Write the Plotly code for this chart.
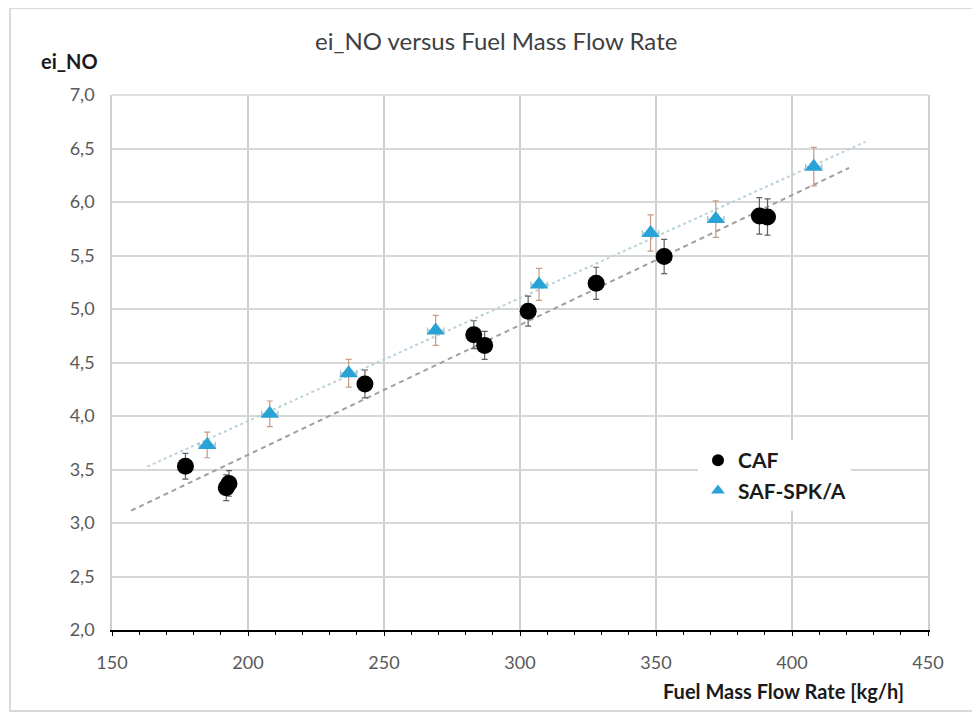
import numpy as np
import plotly.graph_objects as go

# ---- data ----
caf_x = [177, 192, 193, 243, 283, 287, 303, 328, 353, 388, 391]
caf_y = [3.53, 3.33, 3.37, 4.30, 4.76, 4.66, 4.98, 5.24, 5.49, 5.87, 5.86]
caf_err_y = [0.12, 0.12, 0.12, 0.13, 0.13, 0.13, 0.14, 0.15, 0.16, 0.17, 0.17]

saf_x = [185, 208, 237, 269, 307, 348, 372, 408]
saf_y = [3.73, 4.02, 4.40, 4.80, 5.23, 5.71, 5.84, 6.33]
saf_err_y = [0.12, 0.12, 0.13, 0.14, 0.15, 0.17, 0.17, 0.18]
saf_err_x = [3, 3, 3, 3, 3, 3, 3, 3]

# trendline forecast (backward, forward) in kg/h
caf_forecast = (20, 30)
saf_forecast = (22, 19)

x_ticks = [150, 200, 250, 300, 350, 400, 450]
y_ticks = [2.0, 2.5, 3.0, 3.5, 4.0, 4.5, 5.0, 5.5, 6.0, 6.5, 7.0]

title = "ei_NO versus Fuel Mass Flow Rate"
y_title = "ei_NO"
x_title = "Fuel Mass Flow Rate [kg/h]"

FONT = "Lato"
BLUE = "#29a3d6"


def trend(xs, ys, fc):
    k, b = np.polyfit(xs, ys, 1)
    tx = np.array([min(xs) - fc[0], max(xs) + fc[1]], dtype=float)
    return tx, k * tx + b


fig = go.Figure()

tx, ty = trend(caf_x, caf_y, caf_forecast)
fig.add_trace(go.Scatter(x=tx, y=ty, mode="lines", showlegend=False,
                         line=dict(color="#a0a0a0", width=2, dash="5px,4px"),
                         hoverinfo="skip"))
tx, ty = trend(saf_x, saf_y, saf_forecast)
fig.add_trace(go.Scatter(x=tx, y=ty, mode="lines", showlegend=False,
                         line=dict(color="#b9d3da", width=2, dash="3px,3px"),
                         hoverinfo="skip"))

fig.add_trace(go.Scatter(
    x=caf_x, y=caf_y, mode="markers", name="CAF",
    marker=dict(symbol="circle", size=17, color="black"),
    error_y=dict(type="data", array=caf_err_y, color="#606060", thickness=1.2, width=3),
))
fig.add_trace(go.Scatter(
    x=saf_x, y=saf_y, mode="markers", name="SAF-SPK/A",
    marker=dict(symbol="triangle-up", size=16, color=BLUE),
    error_y=dict(type="data", array=saf_err_y, color="#c79a86", thickness=1.2, width=3),
    error_x=dict(type="data", array=saf_err_x, color="#9fc4d2", thickness=1.2, width=3),
))

OFF = 8  # page body margin
W, H = 980 - OFF, 715 - OFF
L, T = 112 - OFF, 95 - OFF
R = 980 - 928
B = 715 - 630
pw, ph = W - L - R, H - T - B


def px(xs):  # screen x -> paper
    return (xs - OFF - L) / pw


def py(ys):  # screen y -> paper
    return (H - B - (ys - OFF)) / ph


fig.update_layout(
    width=W, height=H,
    margin=dict(l=L, r=R, t=T, b=B),
    paper_bgcolor="white", plot_bgcolor="white",
    separators=",.",
    font=dict(family=FONT, color="#595959", size=18),
    showlegend=True,
    legend=dict(x=px(698), y=py(440), xanchor="left", yanchor="top",
                font=dict(family=FONT, size=21, color="#1a1a1a", weight="bold"),
                bgcolor="white", itemsizing="constant", tracegroupgap=2),
    xaxis=dict(range=[150, 450], tickvals=x_ticks, showgrid=True,
               gridcolor="#cfcfcf", gridwidth=1.5, zeroline=False,
               showline=True, linecolor="black", linewidth=1.5,
               ticks="outside", ticklen=4, tickcolor="black",
               minor=dict(dtick=10, ticks="outside", ticklen=3, tickcolor="black", showgrid=False),
               ticklabelstandoff=12, tickfont=dict(size=18, color="#595959")),
    yaxis=dict(range=[2.0, 7.0], tickvals=y_ticks, tickformat=".1f", showgrid=True,
               gridcolor="#d6d6d6", gridwidth=1.5, zeroline=False,
               showline=True, linecolor="#cfcfcf", linewidth=1.5, mirror=True,
               ticks="", ticklabelstandoff=12, tickfont=dict(size=18, color="#595959")),
    annotations=[
        dict(text=title, xref="paper", yref="paper", x=px(496), y=py(40),
             xanchor="center", yanchor="middle", showarrow=False,
             font=dict(family=FONT, size=24, color="#404040")),
        dict(text="<b>" + y_title + "</b>", xref="paper", yref="paper", x=px(69), y=py(61),
             xanchor="center", yanchor="middle", showarrow=False,
             font=dict(family=FONT, size=20, color="#1a1a1a")),
        dict(text="<b>" + x_title + "</b>", xref="paper", yref="paper", x=px(906), y=py(691),
             xanchor="right", yanchor="middle", showarrow=False,
             font=dict(family=FONT, size=20, color="#1a1a1a")),
    ],
    shapes=[
        dict(type="rect", xref="paper", yref="paper",
             x0=px(10), x1=px(974), y0=py(711), y1=py(8),
             line=dict(color="#d9d9d9", width=2), layer="below"),
        dict(type="line", xref="paper", yref="paper", x0=0, x1=1, y0=1, y1=1,
             line=dict(color="#d6d6d6", width=1.5), layer="below"),
    ],
)

fig.write_html("out.html")
